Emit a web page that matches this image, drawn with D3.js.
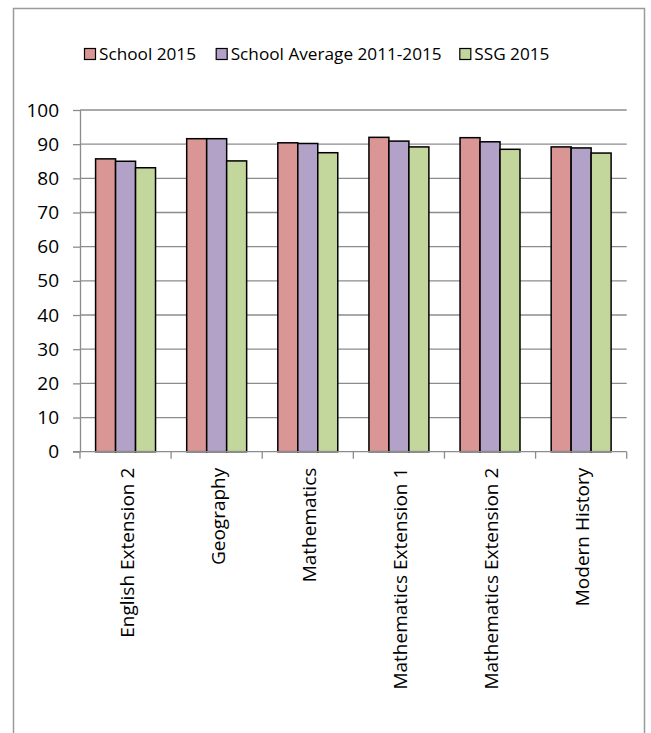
<!DOCTYPE html>
<html>
<head>
<meta charset="utf-8">
<script src="https://cdn.jsdelivr.net/npm/d3@7"></script>
<style>
  html, body { margin: 0; padding: 0; background: #fff; }
  svg { display: block; font-family: "Open Sans", Lato, sans-serif; }
</style>
</head>
<body>
<svg id="chart" width="651" height="733"></svg>
<script>
const categories = ["English Extension 2", "Geography", "Mathematics", "Mathematics Extension 1", "Mathematics Extension 2", "Modern History"];
const seriesNames = ["School 2015", "School Average 2011-2015", "SSG 2015"];
const school2015 = [85.7, 91.6, 90.4, 92.0, 91.9, 89.2];
const schoolAvg = [85.0, 91.6, 90.2, 90.9, 90.7, 88.9];
const ssg2015 = [83.1, 85.1, 87.5, 89.2, 88.5, 87.4];
const yTicks = [0, 10, 20, 30, 40, 50, 60, 70, 80, 90, 100];
const colors = ["#D99694", "#B3A2C7", "#C3D69B"];

const seriesValues = [school2015, schoolAvg, ssg2015];
const svg = d3.select("#chart");

// outer border (bottom edge cropped)
svg.append("rect")
  .attr("x", 13.5).attr("y", 8.5)
  .attr("width", 631).attr("height", 760)
  .attr("fill", "none").attr("stroke", "#9a9a9a").attr("stroke-width", 1.5);

const plot = { left: 80, right: 626.7, top: 110, bottom: 451.7 };

const x = d3.scaleBand().domain(categories).range([plot.left, plot.right]).paddingInner(0).paddingOuter(0);
const xs = d3.scaleBand().domain(d3.range(seriesNames.length)).range([0, x.bandwidth()]).paddingInner(0).paddingOuter(0.78);
const y = d3.scaleLinear().domain([0, 100]).range([plot.bottom, plot.top]);

// gridlines
svg.append("g")
  .selectAll("line").data(yTicks.filter(d => d > 0)).join("line")
  .attr("x1", plot.left).attr("x2", plot.right)
  .attr("y1", d => y(d)).attr("y2", d => y(d))
  .attr("stroke", "#8c8c8c").attr("stroke-width", 1.3);

// y axis
const yAxis = svg.append("g")
  .attr("transform", `translate(${plot.left},0)`)
  .call(d3.axisLeft(y).tickValues(yTicks).tickSize(7).tickPadding(14).tickSizeOuter(0));
yAxis.select(".domain").attr("stroke", "#8c8c8c").attr("stroke-width", 1.3);
yAxis.selectAll(".tick line").attr("stroke", "#8c8c8c").attr("stroke-width", 1.3);
yAxis.selectAll(".tick text").attr("font-size", 19).attr("fill", "#000").attr("font-family", "Open Sans");

// bars
const groups = svg.append("g").selectAll("g").data(categories).join("g")
  .attr("transform", d => `translate(${x(d)},0)`);
groups.selectAll("rect")
  .data((c, i) => seriesValues.map((vals, s) => ({ s, v: vals[i] })))
  .join("rect")
  .attr("x", d => xs(d.s))
  .attr("width", xs.bandwidth())
  .attr("y", d => y(d.v))
  .attr("height", d => y(0) - y(d.v))
  .attr("fill", d => colors[d.s])
  .attr("stroke", "#000").attr("stroke-width", 1.5);

// x axis
const xAxisG = svg.append("g").attr("transform", `translate(0,${plot.bottom})`);
xAxisG.append("line")
  .attr("x1", plot.left - 7).attr("x2", plot.right)
  .attr("stroke", "#8c8c8c").attr("stroke-width", 1.3);
const boundaries = categories.map(c => x(c)).concat([x(categories[categories.length - 1]) + x.bandwidth()]);
xAxisG.selectAll("line.tk").data(boundaries).join("line")
  .attr("class", "tk")
  .attr("x1", d => d).attr("x2", d => d)
  .attr("y1", 0).attr("y2", 7)
  .attr("stroke", "#8c8c8c").attr("stroke-width", 1.3);
xAxisG.selectAll("text").data(categories).join("text")
  .attr("transform", d => `translate(${x(d) + x.bandwidth() / 2 + 1.5},16) rotate(-90)`)
  .attr("text-anchor", "end")
  .attr("dy", "0.35em")
  .attr("font-size", 19)
  .attr("fill", "#000")
  .text(d => d);

// legend
const legend = svg.append("g").attr("transform", "translate(0,54)");
const legendX = [84, 215.7, 459.3];
const items = legend.selectAll("g").data(seriesNames).join("g")
  .attr("transform", (d, i) => `translate(${legendX[i]},0)`);
items.append("rect")
  .attr("x", 0.5).attr("y", -5.5).attr("width", 11).attr("height", 11)
  .attr("fill", (d, i) => colors[i]).attr("stroke", "#000").attr("stroke-width", 1.2);
items.append("text")
  .attr("x", 15).attr("dy", "0.35em")
  .attr("font-size", 17.2).attr("fill", "#000")
  .text(d => d);
</script>
</body>
</html>
